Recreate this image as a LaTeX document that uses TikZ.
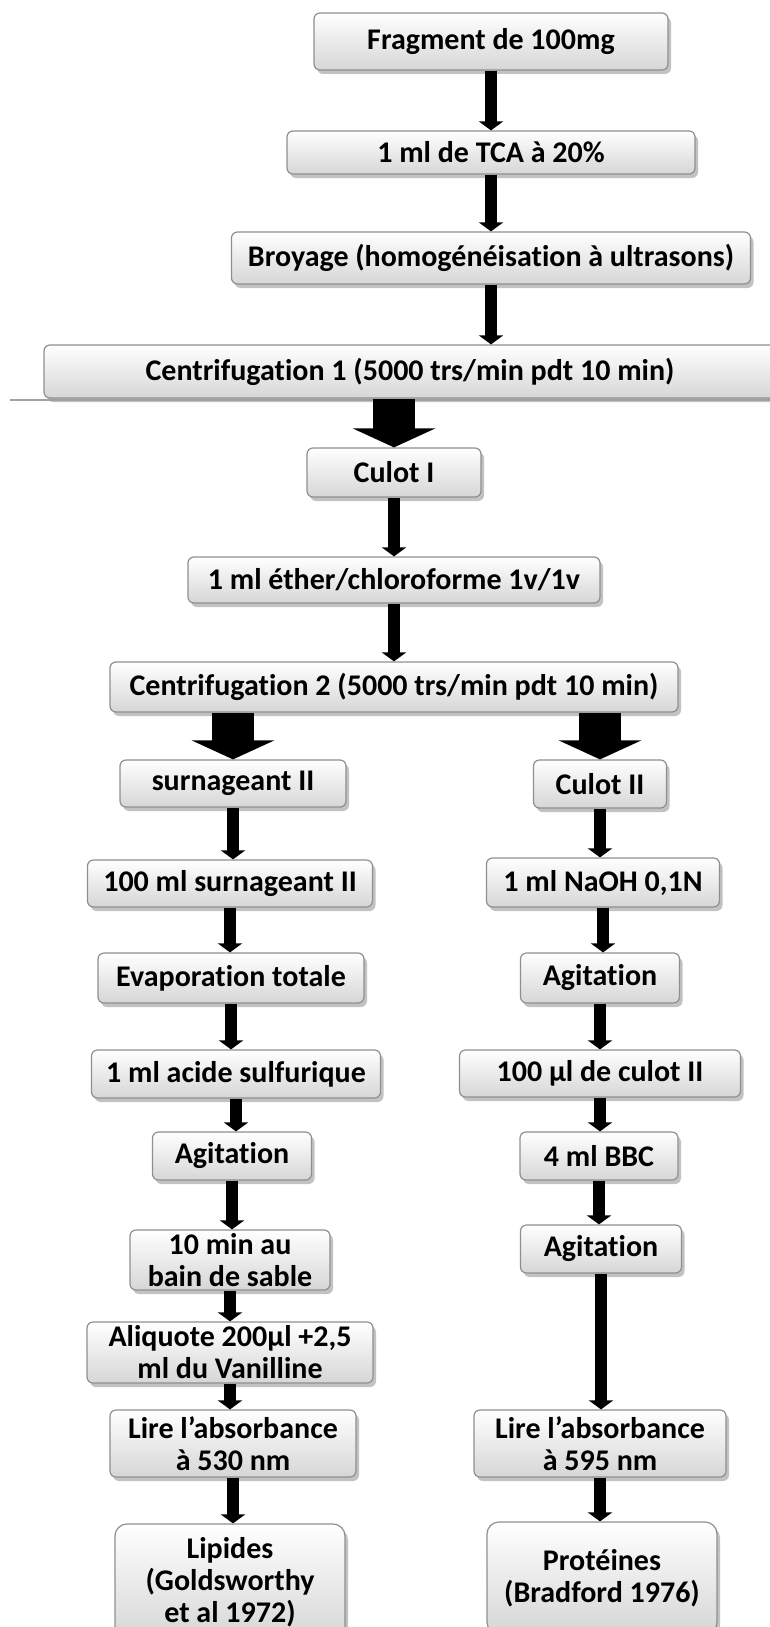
\documentclass[tikz,border=0pt]{standalone}
\usepackage{fontspec}
\setmainfont{Carlito}[Ligatures=NoCommon]
\usepackage{tikz}
\usetikzlibrary{positioning, arrows.meta, shadows}
\definecolor{boxEdge}{HTML}{8f8f8f}
\definecolor{boxLow}{HTML}{d6d6d6}
\definecolor{cutLine}{HTML}{a0a0a0}

\begin{document}
\begin{tikzpicture}[x=0.5pt, y=-0.5pt,
    stepbox/.style={draw=boxEdge, line width=0.6pt, rounded corners=3pt,
      top color=white, bottom color=boxLow, inner sep=0pt, align=center,
      font=\bfseries\fontsize{15}{16}\selectfont,
      drop shadow={shadow xshift=1.5pt, shadow yshift=-2pt, opacity=0.4, fill=black!60}},
    bw/.style={minimum width=#1*0.5pt},
    bh/.style={minimum height=#1*0.5pt},
    flow/.style={line width=6pt, -{Triangle[width=12pt, length=4.5pt]}},
    bigflow/.style={line width=21pt, -{Triangle[width=41pt, length=9.5pt]}}]
    \useasboundingbox (0,0) rectangle (770,1627);
    \clip (0,0) rectangle (770,1627);
    % Common trunk
    \node[stepbox, bw=354, bh=57] (frag)  at (491,41.5)  {Fragment de 100mg};
    \node[stepbox, bw=408, bh=43] (tca)   at (491,152.5) {1 ml de TCA à 20\%};
    \node[stepbox, bw=519, bh=52] (broy)  at (491,258)   {Broyage (homogénéisation à ultrasons)};
    \node[stepbox, bw=732, bh=53] (cent1) at (410,371.5) {Centrifugation 1 (5000 trs/min pdt 10 min)};
    % Cut between the two halves
    \draw[cutLine, line width=1.2pt] (10,400) -- (770,400);
    \node[stepbox, bw=174, bh=49] (culot1) at (394,472.5) {Culot I};
    \node[stepbox, bw=412, bh=46] (ether)  at (394,580)   {1 ml éther/chloroforme 1v/1v};
    \node[stepbox, bw=568, bh=50] (cent2)  at (394,687)   {Centrifugation 2 (5000 trs/min pdt 10 min)};
    % Left branch: lipids
    \node[stepbox, bw=226, bh=47] (surn)    at (233,783.5)  {surnageant II};
    \node[stepbox, bw=285, bh=47] (ml100)   at (230,883.5)  {100 ml surnageant II};
    \node[stepbox, bw=266, bh=50] (evap)    at (231,978)    {Evaporation totale};
    \node[stepbox, bw=289, bh=48] (acide)   at (236,1074)   {1 ml acide sulfurique};
    \node[stepbox, bw=159, bh=48] (agitL)   at (232,1156)   {Agitation};
    \node[stepbox, bw=200, bh=60] (bain)    at (230,1260)   {10 min au\\bain de sable};
    \node[stepbox, bw=286, bh=61] (aliq)    at (230,1352.5) {Aliquote 200µl +2,5\\ml du Vanilline};
    \node[stepbox, bw=246, bh=67] (lire530) at (233,1443.5) {Lire l’absorbance\\à 530 nm};
    \node[stepbox, bw=230, bh=116, rounded corners=6pt] (lipides) at (230,1582)
      {Lipides\\(Goldsworthy\\et al 1972)};
    % Right branch: proteins
    \node[stepbox, bw=133, bh=48] (culot2)  at (600,784)    {Culot II};
    \node[stepbox, bw=233, bh=49] (naoh)    at (603,882.5)  {1 ml NaOH 0,1N};
    \node[stepbox, bw=159, bh=50] (agitR)   at (600,978)    {Agitation};
    \node[stepbox, bw=281, bh=47] (ul100)   at (600,1073.5) {100 µl de culot II};
    \node[stepbox, bw=158, bh=48] (bbc)     at (599,1156)   {4 ml BBC};
    \node[stepbox, bw=161, bh=48] (agitRR)  at (601,1249)   {Agitation};
    \node[stepbox, bw=252, bh=67] (lire595) at (600,1443.5) {Lire l’absorbance\\à 595 nm};
    \node[stepbox, bw=230, bh=112, rounded corners=6pt] (prot) at (602,1578)
      {Protéines\\(Bradford 1976)};
    % Thin arrows
    \foreach \a/\b in {frag/tca, tca/broy, broy/cent1, culot1/ether, ether/cent2,
        surn/ml100, ml100/evap, evap/acide, acide/agitL, agitL/bain, bain/aliq,
        aliq/lire530, lire530/lipides,
        culot2/naoh, naoh/agitR, agitR/ul100, ul100/bbc, bbc/agitRR,
        agitRR/lire595, lire595/prot}
      \draw[flow] (\a.south) -- (\a.south |- \b.north);
    % Thick arrows out of the centrifugations
    \draw[bigflow] (culot1.north |- cent1.south) -- (culot1.north);
    \draw[bigflow] (surn.north |- cent2.south) -- (surn.north);
    \draw[bigflow] (culot2.north |- cent2.south) -- (culot2.north);
  \end{tikzpicture}
\end{document}
